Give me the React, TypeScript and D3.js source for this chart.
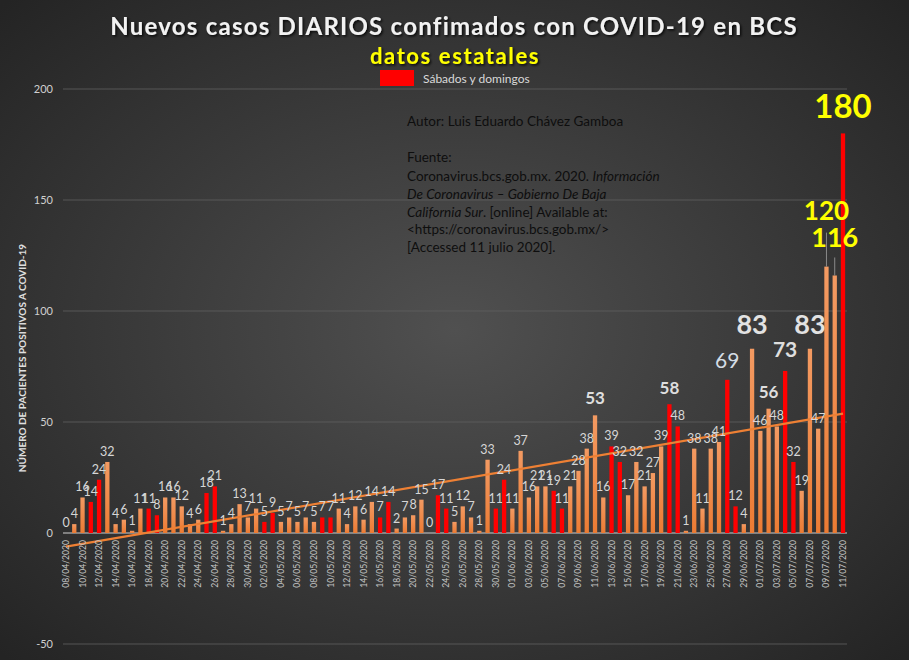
import * as d3 from 'd3';

// daily confirmed cases, 08/04/2020 .. 11/07/2020
const startDate = new Date(2020, 3, 8);
const endDate = new Date(2020, 6, 11);
const cases = [
  0, 4, 16, 14, 24, 32, 4, 6, 1, 11, 11, 8, 16, 16, 12, 4, 6, 18, 21, 1, 4, 13, 7,
  11, 5, 9, 5, 7, 5, 7, 5, 7, 7, 11, 4, 12, 6, 14, 7, 14, 2, 7, 8, 15, 0, 17, 11, 5, 12, 7, 1, 33, 11, 24,
  11, 37, 16, 21, 21, 19, 11, 21, 28, 38, 53, 16, 39, 32, 17, 32, 21, 27, 39, 58, 48, 1, 38, 11, 38, 41, 69, 12, 4, 83,
  46, 56, 48, 73, 32, 19, 83, 47, 120, 116, 180,
];
const yTicks = [-50, 0, 50, 100, 150, 200];

const W = 909;
const H = 660;
const fmt = d3.timeFormat('%d/%m/%Y');
const dates = d3.timeDay.range(startDate, d3.timeDay.offset(endDate, 1));
const rows = dates.map((d, i) => ({ key: fmt(d), date: d, value: cases[i], i }));

// emphasised labels: font size, weight, colour, gap above bar, leader line
const special: Record<string, { size: number; bold: boolean; fill: string; gap: number; leader?: number }> = {
  '11/06/2020': { size: 17, bold: true, fill: '#dedede', gap: 11 },
  '20/06/2020': { size: 17, bold: true, fill: '#dedede', gap: 10 },
  '27/06/2020': { size: 21, bold: false, fill: '#d4dce4', gap: 12 },
  '30/06/2020': { size: 27, bold: true, fill: '#e2e2e2', gap: 15 },
  '02/07/2020': { size: 17, bold: true, fill: '#dedede', gap: 11 },
  '04/07/2020': { size: 21, bold: true, fill: '#dedede', gap: 14 },
  '07/07/2020': { size: 27, bold: true, fill: '#e2e2e2', gap: 15 },
  '09/07/2020': { size: 26, bold: true, fill: '#ffff00', gap: 47, leader: 34 },
  '10/07/2020': { size: 27, bold: true, fill: '#ffff00', gap: 28, leader: 18 },
  '11/07/2020': { size: 33, bold: true, fill: '#ffff00', gap: 15 },
};

const isWeekend = (d: Date) => d.getDay() === 0 || d.getDay() === 6;

export default function App() {
  const x = d3.scalePoint<string>().domain(rows.map((r) => r.key)).range([66, 843]);
  const y = d3.scaleLinear().domain([-50, 200]).range([644, 89]);
  const barW = 4.3;

  // linear trend (least squares over day index)
  const n = rows.length;
  const mx = d3.mean(rows, (r) => r.i) as number;
  const my = d3.mean(rows, (r) => r.value) as number;
  const slope =
    d3.sum(rows, (r) => (r.i - mx) * (r.value - my)) / d3.sum(rows, (r) => (r.i - mx) ** 2);
  const icpt = my - slope * mx;
  const trend = d3
    .line<number>()
    .x((i) => x(rows[i].key) as number)
    .y((i) => y(icpt + slope * i));

  const font = 'Lato, "Open Sans", sans-serif';

  return (
    <svg width={W} height={H} style={{ position: 'absolute', left: 0, top: 0 }} fontFamily={font}>
      <defs>
        <radialGradient id="bg" cx="50%" cy="50%" r="70%">
          <stop offset="0%" stopColor="#505050" />
          <stop offset="100%" stopColor="#242424" />
        </radialGradient>
        <linearGradient id="orange" x1="0" y1="0" x2="0" y2="1">
          <stop offset="0%" stopColor="#f39a62" />
          <stop offset="100%" stopColor="#ec7b33" />
        </linearGradient>
        <filter id="shadow" x="-5%" y="-20%" width="110%" height="150%">
          <feDropShadow dx="1.5" dy="1.5" stdDeviation="1" floodColor="#000" floodOpacity="0.8" />
        </filter>
      </defs>
      <rect width={W} height={H} fill="url(#bg)" />

      {/* grid + y ticks */}
      {yTicks.map((t) => (
        <g key={t}>
          <line
            x1={63}
            x2={847}
            y1={y(t)}
            y2={y(t)}
            stroke={t === 0 ? '#d0d0d0' : '#606060'}
            strokeWidth={t === 0 ? 1.2 : 0.8}
          />
          <text x={53} y={y(t)} dy="0.35em" textAnchor="end" fontSize={11} fill="#d0d0d0">
            {t}
          </text>
        </g>
      ))}

      {/* bars */}
      {rows.map((r) => (
        <rect
          key={r.key}
          x={(x(r.key) as number) - barW / 2}
          y={y(Math.max(r.value, 0))}
          width={barW}
          height={Math.max(y(0) - y(r.value), 0)}
          fill={isWeekend(r.date) ? '#ff0000' : 'url(#orange)'}
        />
      ))}

      {/* trend line */}
      <path d={trend([0, n - 1]) as string} fill="none" stroke="#ee8034" strokeWidth={2.2} />

      {/* value labels */}
      {rows.map((r) => {
        const cx = x(r.key) as number;
        const top = y(r.value);
        const s = special[r.key];
        if (s) {
          return (
            <g key={r.key}>
              {s.leader && (
                <line x1={cx} x2={cx} y1={top} y2={top - s.leader} stroke="#a0a0a0" strokeWidth={0.8} />
              )}
              <text
                x={cx}
                y={top - s.gap}
                textAnchor="middle"
                fontSize={s.size}
                fontWeight={s.bold ? 700 : 400}
                fill={s.fill}
              >
                {r.value}
              </text>
            </g>
          );
        }
        return (
          <text key={r.key} x={cx} y={top - 6} textAnchor="middle" fontSize={12.5} fill="#d6d6d6">
            {r.value}
          </text>
        );
      })}

      {/* x tick labels */}
      {rows
        .filter((r) => r.i % 2 === 0)
        .map((r) => (
          <text
            key={r.key}
            transform={`translate(${(x(r.key) as number) + 3},540) rotate(-90)`}
            textAnchor="end"
            fontSize={8.6}
            fill="#c4c4c4"
          >
            {r.key}
          </text>
        ))}

      {/* y axis title */}
      <text
        transform="translate(26,358) rotate(-90)"
        textAnchor="middle"
        fontSize={10}
        fontWeight={700}
        fill="#e0e0e0"
      >
        NÚMERO DE PACIENTES POSITIVOS A COVID-19
      </text>

      {/* titles */}
      <text
        x={454}
        y={35}
        textAnchor="middle"
        fontSize={24}
        fontWeight={700}
        letterSpacing={1.25}
        fill="#f2f2f2"
        filter="url(#shadow)"
      >
        Nuevos casos DIARIOS confimados con COVID-19 en BCS
      </text>
      <text
        x={455}
        y={64}
        textAnchor="middle"
        fontSize={22}
        fontWeight={700}
        letterSpacing={1.6}
        fill="#ffff00"
        filter="url(#shadow)"
      >
        datos estatales
      </text>

      {/* legend */}
      <rect x={380} y={70} width={34} height={16} fill="#ff0000" />
      <text x={423} y={79} dy="0.35em" fontSize={12} fill="#d9d9d9">
        Sábados y domingos
      </text>

      {/* source note */}
      <g fontSize={13.5} fill="#0e0e0e">
        <text x={407} y={126}>Autor: Luis Eduardo Chávez Gamboa</text>
        <text x={407} y={162}>Fuente:</text>
        <text x={407} y={181}>
          Coronavirus.bcs.gob.mx. 2020. <tspan fontStyle="italic">Información</tspan>
        </text>
        <text x={407} y={199} fontStyle="italic">
          De Coronavirus – Gobierno De Baja
        </text>
        <text x={407} y={217}>
          <tspan fontStyle="italic">California Sur</tspan>. [online] Available at:
        </text>
        <text x={407} y={234}>&lt;https://coronavirus.bcs.gob.mx/&gt;</text>
        <text x={407} y={252}>[Accessed  11 julio 2020].</text>
      </g>
    </svg>
  );
}
